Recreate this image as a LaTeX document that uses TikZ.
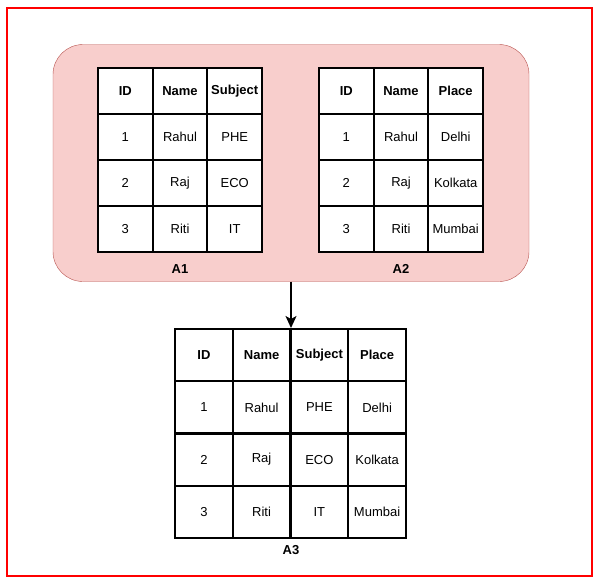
\documentclass[tikz,border=0pt]{standalone}
\usepackage{fontspec}
\setmainfont{Liberation Sans}
\usetikzlibrary{arrows.meta}
\definecolor{grpfill}{RGB}{248,206,204}
\definecolor{grpline}{RGB}{184,84,80}

\begin{document}
\begin{tikzpicture}[x=1pt,y=-1pt]

      \useasboundingbox (0,0) rectangle (599,582);
      \draw[red,line width=2pt] (7,8) rectangle (592,576);

      \node[draw=grpline,fill=grpfill,rounded corners=30pt,minimum width=476pt,minimum height=237pt] (grp) at (291,163) {};

      % white table grounds
      \begin{scope}[every node/.style={fill=white,inner sep=0pt}]
        \node[minimum width=164pt,minimum height=184pt] (t1) at (180,160) {};
        \node[minimum width=164pt,minimum height=184pt] (t2) at (401,160) {};
        \node[minimum width=231pt,minimum height=209pt] (t3) at (290.5,433.5) {};
      \end{scope}

      % A1
      \begin{scope}[every node/.style={draw,line width=2pt,inner sep=0pt,minimum width=54.67pt,minimum height=46pt,font=\fontsize{13}{15}\selectfont}]
        \begin{scope}[every node/.append style={font=\fontsize{13}{15}\selectfont\bfseries}]
          \node (a1h1) at (125.3,91) {ID};
          \node (a1h2) at (180,91)   {Name};
          \node (a1h3) at (234.7,91) {Subject};
        \end{scope}
        \node (a1r1c1) at (125.3,137) {1};
        \node (a1r1c2) at (180,137)   {Rahul};
        \node (a1r1c3) at (234.7,137) {PHE};
        \node (a1r2c1) at (125.3,183) {2};
        \node (a1r2c2) at (180,183)   {Raj};
        \node (a1r2c3) at (234.7,183) {ECO};
        \node (a1r3c1) at (125.3,229) {3};
        \node (a1r3c2) at (180,229)   {Riti};
        \node (a1r3c3) at (234.7,229) {IT};
      \end{scope}

      % A2
      \begin{scope}[every node/.style={draw,line width=2pt,inner sep=0pt,minimum width=54.67pt,minimum height=46pt,font=\fontsize{13}{15}\selectfont}]
        \begin{scope}[every node/.append style={font=\fontsize{13}{15}\selectfont\bfseries}]
          \node (a2h1) at (346.3,91) {ID};
          \node (a2h2) at (401,91)   {Name};
          \node (a2h3) at (455.7,91) {Place};
        \end{scope}
        \node (a2r1c1) at (346.3,137) {1};
        \node (a2r1c2) at (401,137)   {Rahul};
        \node (a2r1c3) at (455.7,137) {Delhi};
        \node (a2r2c1) at (346.3,183) {2};
        \node (a2r2c2) at (401,183)   {Raj};
        \node (a2r2c3) at (455.7,183) {Kolkata};
        \node (a2r3c1) at (346.3,229) {3};
        \node (a2r3c2) at (401,229)   {Riti};
        \node (a2r3c3) at (455.7,229) {Mumbai};
      \end{scope}

      % A3
      \begin{scope}[every node/.style={draw,line width=2pt,inner sep=0pt,minimum width=57.75pt,minimum height=52.25pt,font=\fontsize{13}{15}\selectfont}]
        \begin{scope}[every node/.append style={font=\fontsize{13}{15}\selectfont\bfseries}]
          \node (a3h1) at (203.9,355.1) {ID};
          \node (a3h2) at (261.6,355.1) {Name};
          \node (a3h3) at (319.4,355.1) {Subject};
          \node (a3h4) at (377.1,355.1) {Place};
        \end{scope}
        \node (a3r1c1) at (203.9,407.4) {1};
        \node (a3r1c2) at (261.6,407.4) {Rahul};
        \node (a3r1c3) at (319.4,407.4) {PHE};
        \node (a3r1c4) at (377.1,407.4) {Delhi};
        \node (a3r2c1) at (203.9,459.6) {2};
        \node (a3r2c2) at (261.6,459.6) {Raj};
        \node (a3r2c3) at (319.4,459.6) {ECO};
        \node (a3r2c4) at (377.1,459.6) {Kolkata};
        \node (a3r3c1) at (203.9,511.9) {3};
        \node (a3r3c2) at (261.6,511.9) {Riti};
        \node (a3r3c3) at (319.4,511.9) {IT};
        \node (a3r3c4) at (377.1,511.9) {Mumbai};
      \end{scope}

      % labels
      \begin{scope}[every node/.style={font=\fontsize{13}{15}\selectfont\bfseries}]
        \node (l1) at (180,269) {A1};
        \node (l2) at (401,269) {A2};
        \node (l3) at (291,550) {A3};
      \end{scope}

      \draw[line width=1.5pt,-{Stealth[length=12pt,width=11pt,inset=3pt]}] (grp.south) -- (grp.south |- a3h2.north);

    \end{tikzpicture}
\end{document}
